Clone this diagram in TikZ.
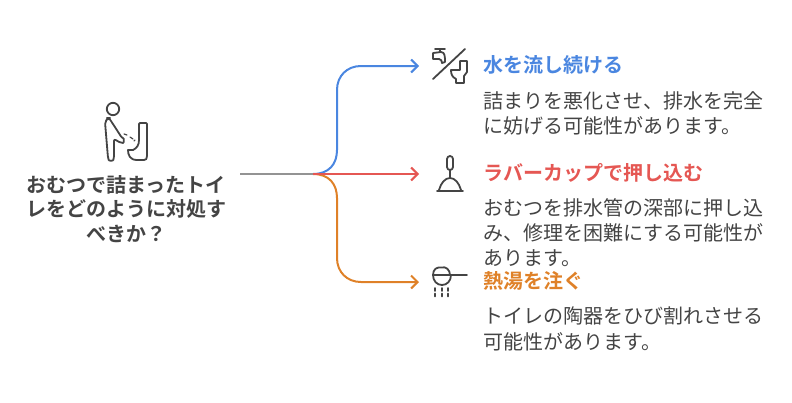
\documentclass[tikz,border=0pt]{standalone}
\usepackage{fontspec}
\setmainfont{Noto Sans CJK JP}
\newfontfamily\jpbold{Noto Sans CJK JP Bold}
\usetikzlibrary{arrows.meta}
\definecolor{bluebranch}{HTML}{4A86E0}
\definecolor{redbranch}{HTML}{E55753}
\definecolor{orangebranch}{HTML}{DF8128}
\definecolor{inkgray}{HTML}{444444}
\tikzset{
	branch/.style={line width=2pt,line cap=round,-{Straight Barb[length=6.5pt,width=13pt,line width=2pt]}},
	headtext/.style={anchor=west,inner sep=0pt,font=\fontsize{20}{24}\jpbold},
	bodytext/.style={anchor=north west,inner sep=0pt,align=left,text=inkgray,font=\fontsize{20}{25.4}\selectfont},
	icon/.style={draw=inkgray,line width=1.8pt,line cap=round,line join=round},
}
\begin{document}
\begin{tikzpicture}[x=1pt,y=-1pt]
	\path [use as bounding box] (0,0) rectangle (792,402);
	\coordinate (root) at (240,174);
	\coordinate (fork) at (313,174);
	\node[headtext,text=bluebranch] (water) at (483,65) {水を流し続ける};
	\node[headtext,text=redbranch] (cup) at (483,173) {ラバーカップで押し込む};
	\node[headtext,text=orangebranch] (hot) at (483,281) {熱湯を注ぐ};
	\node[bodytext] (waterbody) at (483,91) {詰まりを悪化させ、排水を完全\\に妨げる可能性があります。};
	\node[bodytext] (cupbody) at (483,198) {おむつを排水管の深部に押し込\\み、修理を困難にする可能性が\\あります。};
	\node[bodytext] (hotbody) at (483,307) {トイレの陶器をひび割れさせる\\可能性があります。};
	\node[align=center,inner sep=0pt,text=inkgray,font=\fontsize{20}{24.5}\jpbold] (title) at (126,209)
	{おむつで詰まったトイ\\レをどのように対処す\\べきか？};
	\coordinate (waterend) at (419,66);
	\coordinate (cupend) at (419,174);
	\coordinate (hotend) at (419,282);
	% branches
	\draw[branch,orangebranch] (fork) .. controls (329,174) and (337,184) .. (337,198) -- (337,258) .. controls (337,272) and (347,282) .. (361,282) -- (hotend);
	\draw[branch,bluebranch] (fork) .. controls (329,174) and (337,164) .. (337,150) -- (337,90) .. controls (337,76) and (347,66) .. (361,66) -- (waterend);
	\draw[branch,redbranch] (fork) -- (cupend);
	\draw[line width=2pt,gray!85] (root) -- (fork);
	% person
	\draw[icon] (113,109) circle (6.2);
	\draw[icon,rounded corners=2pt] (108,118) -- (105,122) -- (108,158) .. controls (109,161) and (113,161) .. (114,158) -- (114,139) -- (121,143) .. controls (124,143) and (124,139) .. (122,138) -- (113,124) -- (109,118) -- cycle;
	\draw[icon] (140,123) -- (146,123) .. controls (147,123) and (147,124) .. (147,125) -- (147,156) .. controls (147,159) and (146,160) .. (144,160) -- (137,160) .. controls (130,160) and (128,155) .. (128,150) -- (133,150) .. controls (137,148) and (139,145) .. (139,140) -- (139,124) -- cycle;
	\draw[icon,line width=1.2pt] (124,134) -- (127,135) (130,137) -- (133,139);
	\draw[icon,line width=1.2pt] (135,140) -- (134,141);
	% faucet and toilet
	\draw[icon] (433,79) -- (465,49);
	\draw[icon] (435,49) -- (445,49) (440,49) -- (440,52) (433,53) -- (441,52) .. controls (445,52) and (445,57) .. (445,62) (433,53) -- (433,59) -- (439,59) .. controls (441,59) and (442,61) .. (442,63) -- (445,62);
	\draw[icon] (460,70) -- (460,61) -- (467,61) -- (467,72) -- (464,76) -- (464,83) -- (456,83) -- (456,79) .. controls (452,77) and (451,74) .. (451,70) -- cycle;
	% plunger
	\draw[icon,rounded corners=3pt] (447,156) rectangle (453,170);
	\draw[icon] (450,170) -- (450,178);
	\draw[icon] (439,190) .. controls (441,183) and (445,178) .. (450,178) .. controls (455,178) and (459,183) .. (461,190);
	\draw[icon] (437,191) -- (463,191);
	% kettle scoop
	\draw[icon] (433,275) -- (467,275);
	\draw[icon] (433,275) .. controls (433,269) and (437,267) .. (441,267.5) .. controls (446,266) and (450,270) .. (450,275);
	\draw[icon] (433,275) .. controls (433,281) and (437,285) .. (442,285) .. controls (447,285) and (451,281) .. (451,275);
	\draw[icon,dash pattern=on 3pt off 2.5pt] (435,288) -- (435,297) (442,288) -- (442,298) (448,288) -- (448,297);
\end{tikzpicture}
\end{document}
